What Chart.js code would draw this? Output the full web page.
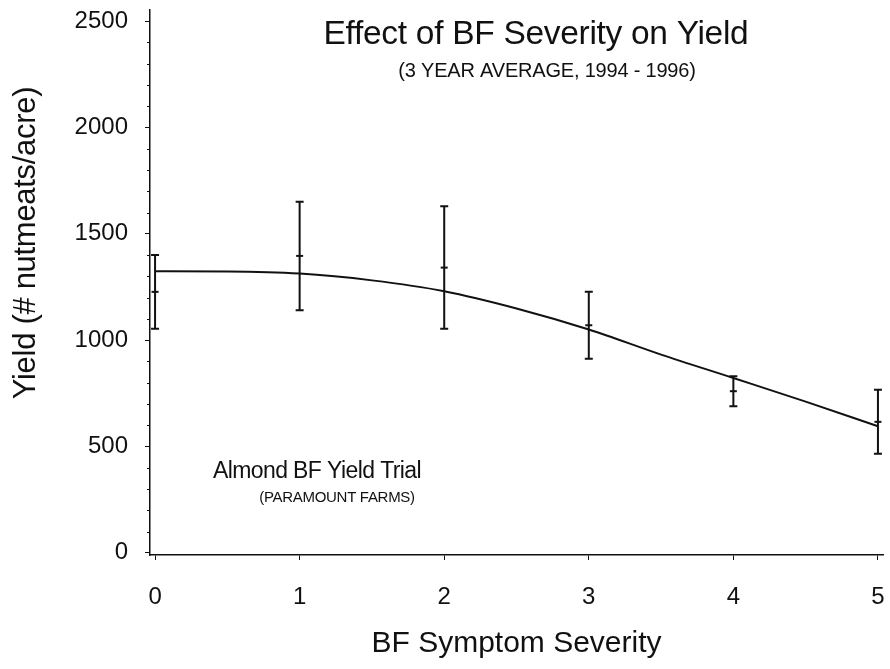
<!DOCTYPE html>
<html><head><meta charset="utf-8">
<script src="https://cdn.jsdelivr.net/npm/chart.js@4.4.1/dist/chart.umd.min.js"></script>
<style>html,body{margin:0;padding:0;background:#fff;}#wrap{width:890px;height:669px;position:relative}</style>
</head><body><div id="wrap"><canvas id="c" width="890" height="669"></canvas></div>
<script>
// ---- data ----
const severity   = [0, 1, 2, 3, 4, 5];
const meanYield  = [1227, 1396, 1341, 1070, 760, 616];
const lowerYield = [1054, 1141, 1053, 912, 689, 466];
const upperYield = [1400, 1651, 1629, 1227, 830, 767];
const fitX = [0, 0.5, 1, 1.5, 2, 2.5, 3, 3.5, 4, 4.5, 5];
const fitY = [1324, 1323, 1313, 1281, 1230, 1149, 1050, 932, 822, 711, 595];
const xTicks = [0, 1, 2, 3, 4, 5];
const yTicks = [0, 500, 1000, 1500, 2000, 2500];
const titleText = 'Effect of BF Severity on Yield';
const subtitleText = '(3 YEAR AVERAGE, 1994 - 1996)';
const noteText = 'Almond BF Yield Trial';
const noteSubText = '(PARAMOUNT FARMS)';
const xTitle = 'BF Symptom Severity';
const yTitle = 'Yield (# nutmeats/acre)';

const FONT = "'Liberation Sans', Arial, Helvetica, sans-serif";
const INK = '#111';

const textPlugin = {
  id: 'texts',
  afterDraw(chart) {
    const ctx = chart.ctx;
    const draw = (t, x, y, size, ls, rot) => {
      ctx.save();
      ctx.font = size + 'px ' + FONT;
      ctx.fillStyle = INK;
      ctx.textAlign = 'center';
      ctx.textBaseline = rot ? 'middle' : 'alphabetic';
      ctx.letterSpacing = ls + 'px';
      ctx.translate(x, y);
      if (rot) ctx.rotate(-Math.PI / 2);
      ctx.fillText(t, 0, 0);
      ctx.restore();
    };
    draw(titleText, 536, 44, 33.5, -0.3);
    draw(subtitleText, 547, 77, 20, -0.2);
    draw(noteText, 317, 478, 23, -0.6);
    draw(noteSubText, 337, 502, 15, -0.3);
    draw(yTitle, 26, 243, 31, -0.3, true);
  }
};

const errorBarPlugin = {
  id: 'errbars',
  afterDatasetsDraw(chart) {
    const ctx = chart.ctx, xs = chart.scales.x, ys = chart.scales.y;
    ctx.save();
    ctx.strokeStyle = INK;
    ctx.lineWidth = 2;
    severity.forEach((s, i) => {
      const px = xs.getPixelForValue(s);
      const pLo = ys.getPixelForValue(lowerYield[i]);
      const pHi = ys.getPixelForValue(upperYield[i]);
      ctx.beginPath();
      ctx.moveTo(px, pLo); ctx.lineTo(px, pHi);
      ctx.moveTo(px - 4, pLo); ctx.lineTo(px + 4, pLo);
      ctx.moveTo(px - 4, pHi); ctx.lineTo(px + 4, pHi);
      ctx.stroke();
    });
    // minor y ticks
    ctx.lineWidth = 1;
    const left = chart.chartArea.left;
    for (let k = 0; k < yTicks.length - 1; k++) {
      const step = (yTicks[k + 1] - yTicks[k]) / 5;
      for (let m = 1; m < 5; m++) {
        const py = Math.round(ys.getPixelForValue(yTicks[k] + m * step)) + 0.5;
        ctx.beginPath(); ctx.moveTo(left - 3, py); ctx.lineTo(left, py); ctx.stroke();
      }
    }
    ctx.restore();
  }
};

new Chart(document.getElementById('c'), {
  type: 'line',
  data: {
    datasets: [
      {
        label: 'Fit',
        data: fitX.map((x, i) => ({ x, y: fitY[i] })),
        borderColor: INK, borderWidth: 2, pointRadius: 0,
        cubicInterpolationMode: 'monotone', fill: false
      },
      {
        type: 'scatter',
        label: 'Mean',
        data: severity.map((x, i) => ({ x, y: meanYield[i] })),
        pointStyle: 'line', pointRadius: 3.5, borderColor: INK, borderWidth: 2,
        backgroundColor: INK, showLine: false
      }
    ]
  },
  options: {
    responsive: false, animation: false, devicePixelRatio: 1,
    layout: { padding: { left: 0, right: 7, top: 10, bottom: 0 } },
    plugins: { legend: { display: false }, tooltip: { enabled: false }, title: { display: false } },
    scales: {
      x: {
        type: 'linear', min: -0.035, max: 5.035,
        afterBuildTicks: s => { s.ticks = xTicks.map(v => ({ value: v })); },
        afterFit: s => { s.height = 114; s.paddingLeft = 0; s.paddingRight = 0; },
        grid: { drawOnChartArea: false, drawTicks: true, tickLength: 5, color: INK, lineWidth: 1 },
        border: { display: true, color: INK, width: 1.5 },
        ticks: { color: INK, font: { family: FONT, size: 24 }, padding: 23, maxRotation: 0 },
        title: { display: true, text: xTitle, color: INK, font: { family: FONT, size: 30 }, padding: { top: 0, bottom: 7 } }
      },
      y: {
        type: 'linear', min: -10, max: 2552,
        afterBuildTicks: s => { s.ticks = yTicks.map(v => ({ value: v })); },
        afterFit: s => { s.width = 150; s.paddingTop = 0; s.paddingBottom = 0; },
        grid: { drawOnChartArea: false, drawTicks: true, tickLength: 5, color: INK, lineWidth: 1 },
        border: { display: true, color: INK, width: 1.5 },
        ticks: { color: INK, font: { family: FONT, size: 24 }, padding: 17, callback: v => String(v) },
        title: { display: false }
      }
    }
  },
  plugins: [errorBarPlugin, textPlugin]
});
</script></body></html>
